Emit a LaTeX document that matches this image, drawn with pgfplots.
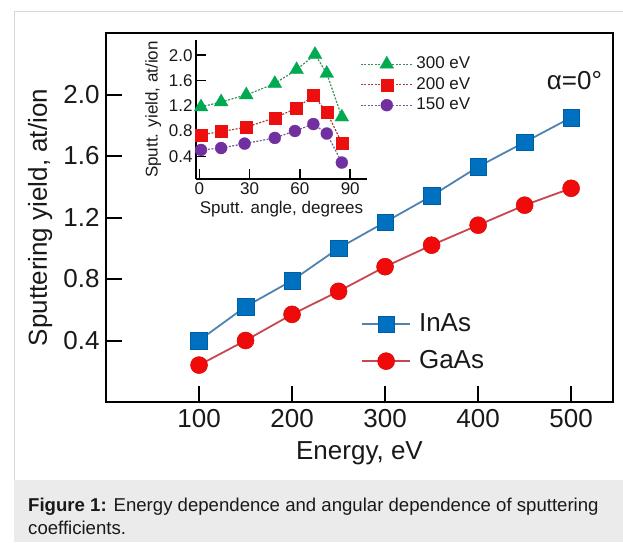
\documentclass[border=0pt]{standalone}
\usepackage{pgfplots}
\pgfplotsset{compat=1.18}
\usepackage{fontspec}
\setmainfont{Liberation Sans}

\definecolor{inasfill}{RGB}{0,112,192}
\definecolor{inasline}{RGB}{80,130,175}
\definecolor{gaasfill}{RGB}{240,10,10}
\definecolor{gaasline}{RGB}{200,70,80}
\definecolor{greenm}{RGB}{0,170,80}
\definecolor{greenl}{RGB}{60,140,90}
\definecolor{redm}{RGB}{235,15,15}
\definecolor{redl}{RGB}{170,60,60}
\definecolor{purplem}{RGB}{112,48,160}
\definecolor{purplel}{RGB}{120,90,150}
\definecolor{capgray}{RGB}{235,235,235}
\definecolor{framegray}{RGB}{215,215,215}
\definecolor{txt}{RGB}{25,25,25}

\begin{document}
\begin{tikzpicture}
\useasboundingbox (0pt,0pt) rectangle (623pt,542pt);
% frame and caption box
\draw[framegray, line width=1pt] (14.5pt,62pt) -- (14.5pt,530pt) -- (623pt,530pt);
\fill[capgray] (14pt,0pt) rectangle (623pt,62pt);
\node[anchor=base west, inner sep=0pt, text=txt, font=\fontsize{18.6}{22}\selectfont]
  at (28pt,31pt) {\textbf{Figure 1:} Energy dependence and angular dependence of sputtering};
\node[anchor=base west, inner sep=0pt, text=txt, font=\fontsize{18.6}{22}\selectfont]
  at (28pt,8pt) {coefficients.};

% main plot: energy dependence
\begin{axis}[
  at={(106pt,140pt)}, anchor=south west,
  scale only axis, width=507pt, height=369pt,
  xmin=0, xmax=545, ymin=0, ymax=2.4,
  axis line style={line width=2.5pt, black},
  xtick={100,200,300,400,500}, xticklabels={100,200,300,400,500},
  ytick={0.4,0.8,1.2,1.6,2.0}, yticklabels={0.4,0.8,1.2,1.6,2.0},
  xtick pos=bottom, ytick pos=left,
  tick align=inside, major tick length=16pt,
  tick style={line width=2pt, black},
  /pgf/number format/assume math mode=true,
  tick label style={font=\fontsize{26}{30}\selectfont, text=txt},
  yticklabel style={xshift=-3pt},
  xticklabel style={yshift=-4pt},
  xlabel={Energy, eV},
  ylabel={Sputtering yield, at/ion},
  label style={font=\fontsize{26}{30}\selectfont, text=txt, inner sep=0pt},
  xlabel style={at={(axis description cs:0.5,-0.108)}, anchor=north},
  ylabel style={at={(axis description cs:-0.13,0.5)}, anchor=center},
  legend image code/.code={\draw[mark repeat=2,mark phase=2,#1] plot coordinates {(0pt,0pt) (24pt,0pt) (48pt,0pt)};},
  legend style={draw=none, fill=none, inner sep=0pt, at={(0.503,0.244)}, anchor=north west,
    font=\fontsize{26}{30}\selectfont, text=txt,
    nodes={inner sep=0pt, text height=19pt, text depth=5pt}, column sep=8pt, row sep=13pt},
  legend cell align=left,
]
\addplot[inasline, line width=1.8pt, mark=square*, mark size=8.3pt,
  mark options={fill=inasfill, draw=inasfill!85!black, line width=0.5pt}] coordinates {
  (100,0.40) (150,0.62) (200,0.79) (250,1.00) (300,1.17)
  (350,1.34) (400,1.53) (450,1.69) (500,1.85)
};
\addlegendentry{InAs}
\addplot[gaasline, line width=1.8pt, mark=*, mark size=8.5pt,
  mark options={fill=gaasfill, draw=gaasfill!90!black, line width=0.5pt}] coordinates {
  (100,0.24) (150,0.40) (200,0.57) (250,0.72) (300,0.88)
  (350,1.02) (400,1.15) (450,1.28) (500,1.39)
};
\addlegendentry{GaAs}
\node[font=\fontsize{26}{30}\selectfont, text=txt] at (rel axis cs:0.924,0.872) {α=0°};
\end{axis}

% inset: angular dependence
\begin{axis}[
  at={(196pt,363pt)}, anchor=south west,
  scale only axis, width=171pt, height=139pt,
  xmin=-2, xmax=100, ymin=0.04, ymax=2.24,
  axis x line*=bottom, axis y line*=left,
  axis line style={line width=1.5pt, black},
  xtick={0,30,60,90}, xticklabels={0,30,60,90},
  ytick={0.4,0.8,1.2,1.6,2.0}, yticklabels={0.4,0.8,1.2,1.6,2.0},
  tick align=inside, major tick length=10pt,
  tick style={line width=1.5pt, black},
  /pgf/number format/assume math mode=true,
  tick label style={font=\fontsize{17}{20}\selectfont, text=txt},
  xlabel={Sputt. angle, degrees},
  ylabel={Sputt. yield, at/ion},
  label style={font=\fontsize{17}{20}\selectfont, text=txt, inner sep=0pt},
  xlabel style={at={(axis description cs:0.5,-0.158)}, anchor=north},
  ylabel style={at={(axis description cs:-0.25,0.5)}, anchor=center},
  legend image code/.code={\draw[mark repeat=2,mark phase=2,#1] plot coordinates {(0pt,0pt) (26pt,0pt) (52pt,0pt)};},
  legend style={draw=none, fill=none, inner sep=0pt, at={(0.959,0.885)}, anchor=north west,
    font=\fontsize{17}{20}\selectfont, text=txt,
    nodes={inner sep=0pt, text height=12.5pt, text depth=3.5pt}, column sep=3pt, row sep=4.5pt},
  legend cell align=left,
]
\addplot[greenl, line width=1.2pt, dash pattern=on 2pt off 1.5pt, mark=triangle*, mark size=8pt,
  mark options={solid, fill=greenm, draw=greenm, line width=0.3pt}] coordinates {
  (1,1.18) (13,1.26) (28,1.37) (45,1.55) (58,1.77) (69,2.01) (76,1.71) (85,1.02)
};
\addlegendentry{300 eV}
\addplot[redl, line width=1.2pt, dash pattern=on 2pt off 1.5pt, mark=square*, mark size=6pt,
  mark options={solid, fill=redm, draw=redm, line width=0.3pt}] coordinates {
  (1,0.74) (13,0.79) (28,0.86) (45,1.01) (58,1.16) (68,1.36) (76,1.10) (85,0.61)
};
\addlegendentry{200 eV}
\addplot[purplel, line width=1.2pt, dash pattern=on 2pt off 1.5pt, mark=*, mark size=6pt,
  mark options={solid, fill=purplem, draw=purplem, line width=0.3pt}] coordinates {
  (1,0.50) (13,0.53) (27,0.60) (45,0.69) (57,0.80) (68,0.91) (76,0.76) (85,0.30)
};
\addlegendentry{150 eV}
\end{axis}
\end{tikzpicture}
\end{document}
